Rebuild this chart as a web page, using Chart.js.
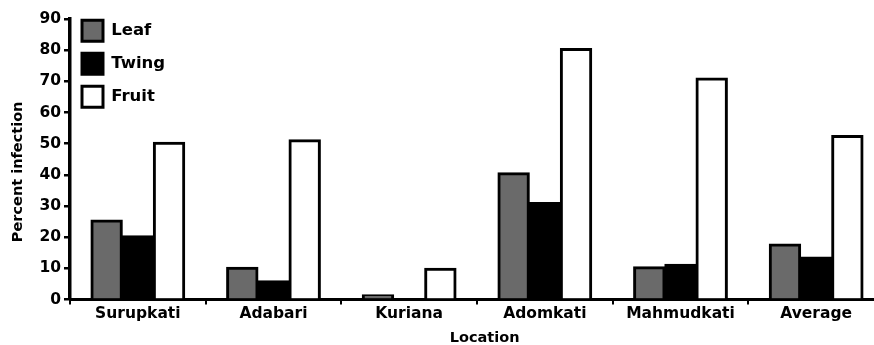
<!DOCTYPE html>
<html lang="en">
<head>
    <meta charset="UTF-8">
    <title>Percent infection by location</title>
    <script src="https://cdn.jsdelivr.net/npm/chart.js"></script>
    <style>
        html, body { margin: 0; padding: 0; background: #fff; overflow: hidden; }
        #chart { position: absolute; left: 0; top: 0; }
    </style>
</head>
<body>
    <canvas id="chart" width="890" height="345"></canvas>
    <script>
        // data
        const locations = ['Surupkati', 'Adabari', 'Kuriana', 'Adomkati', 'Mahmudkati', 'Average'];
        const leaf = [25.5, 10.3, 1.5, 40.6, 10.5, 17.8];
        const twing = [20.4, 6, 0, 31.1, 11.3, 13.6];
        const fruit = [50.4, 51.2, 10, 80.5, 71, 52.6];
        const yTicks = [0, 10, 20, 30, 40, 50, 60, 70, 80, 90];

        const font = 'DejaVu Sans';
        const nb = '\u00a0';

        const ctx = document.getElementById('chart').getContext('2d');
        new Chart(ctx, {
            type: 'bar',
            data: {
                labels: locations,
                datasets: [
                    { label: 'Leaf', data: leaf, backgroundColor: '#6a6a6a' },
                    { label: 'Twing', data: twing, backgroundColor: '#000000' },
                    { label: 'Fruit', data: fruit, backgroundColor: '#ffffff' }
                ]
            },
            options: {
                responsive: false,
                animation: false,
                layout: { padding: { top: 19, right: 6, left: 0, bottom: 0 } },
                datasets: {
                    bar: {
                        borderColor: '#000',
                        borderWidth: 3,
                        categoryPercentage: 0.69,
                        barPercentage: 1.0,
                        inflateAmount: 0.6
                    }
                },
                plugins: {
                    tooltip: { enabled: false },
                    legend: {
                        position: 'chartArea',
                        align: 'start',
                        // blank title only pushes the key down a little
                        title: {
                            display: true,
                            text: ' ',
                            font: { size: 1 },
                            padding: { top: 4, bottom: 3 }
                        },
                        labels: {
                            color: '#000',
                            font: { family: font, size: 16.5, weight: 'bold' },
                            boxWidth: 21,
                            boxHeight: 21,
                            padding: 12
                        }
                    }
                },
                scales: {
                    x: {
                        grid: {
                            offset: true,
                            drawOnChartArea: false,
                            color: '#000',
                            lineWidth: 2,
                            tickLength: 5
                        },
                        border: { color: '#000', width: 3 },
                        ticks: {
                            color: '#000',
                            padding: 0,
                            font: { family: font, size: 15.5, weight: 'bold' }
                        },
                        title: {
                            display: true,
                            // leading spaces nudge the title right like the original
                            text: nb.repeat(3) + 'Location',
                            color: '#000',
                            padding: { top: 0, bottom: -2 },
                            font: { family: font, size: 14.5, weight: 'bold' }
                        },
                        afterFit: (scale) => { scale.height = 45.5; }
                    },
                    y: {
                        min: 0,
                        max: 90,
                        afterBuildTicks: (scale) => { scale.ticks = yTicks.map(v => ({ value: v })); },
                        grid: {
                            drawOnChartArea: false,
                            color: '#000',
                            lineWidth: 2.5,
                            tickLength: 6
                        },
                        border: { color: '#000', width: 3.5 },
                        ticks: {
                            color: '#000',
                            padding: 3,
                            font: { family: font, size: 15.5, weight: 'bold' }
                        },
                        title: {
                            display: true,
                            // trailing spaces move the rotated title lower
                            text: 'Percent infection' + nb.repeat(5),
                            color: '#000',
                            padding: { top: 10, bottom: 0 },
                            font: { family: font, size: 14.5, weight: 'bold' }
                        },
                        afterFit: (scale) => { scale.width = 70; }
                    }
                }
            }
        });
    </script>
</body>
</html>
